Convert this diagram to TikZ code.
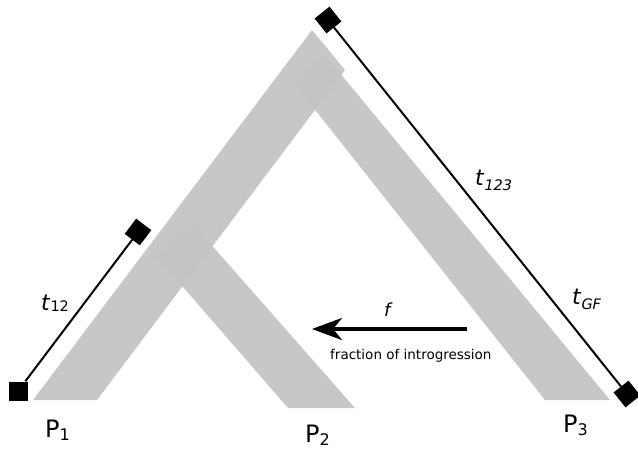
\documentclass[tikz,border=0pt]{standalone}
\usepackage{fontspec}
\setmainfont{DejaVu Sans}
\usetikzlibrary{arrows.meta}
\newcommand{\idx}[2][3pt]{\raisebox{-#1}{\fontsize{14.5}{15}\selectfont #2}}

\begin{document}
\begin{tikzpicture}[x=1pt,y=-1pt,
  band/.style={fill=black!23,fill opacity=0.95},
  tip/.style={rectangle,fill=black,minimum size=19pt,inner sep=0pt},
  span/.style={line width=2pt},
  pop/.style={font=\fontsize{24}{24}\selectfont,anchor=base west,inner sep=0pt},
  tlab/.style={font=\fontsize{22}{22}\selectfont,anchor=base west,inner sep=0pt}]
\useasboundingbox (0,0) rectangle (638,448);
% lineages
\fill[band] (33,400) -- (312,30) -- (345,70) -- (97,400) -- cycle;
\fill[band] (293,82) -- (325,55) -- (610,400) -- (545,400) -- cycle;
\fill[band] (157,257) -- (193,224) -- (355,408) -- (288,408) -- cycle;
% time spans
\node[tip] (s12a) at (18,391) {};
\node[tip,rotate=53] (s12b) at (138,232) {};
\node[tip,rotate=38.6] (s123a) at (328,20) {};
\node[tip,rotate=38.6] (s123b) at (627,394) {};
\draw[span] (s12a) -- (s12b);
\draw[span] (s123a) -- (s123b);
\node[tlab] (t12) at (41,310) {\textit{t}\idx[1pt]{12}};
\node[tlab] (t123) at (475,185) {\textit{t}\idx[5pt]{\itshape 123}};
\node[tlab] (tgf) at (572,304) {\textit{t}\idx[5pt]{\itshape GF}};
% gene flow
\coordinate (fsrc) at (467,329);
\coordinate (fdst) at (312,329);
\draw[line width=4.5pt,-{Stealth[length=30pt,width=22pt,inset=9pt]}] (fsrc) -- (fdst);
\node[font=\fontsize{18}{18}\selectfont,anchor=base west,inner sep=0pt] (f) at (384,316) {\textit{f}};
\node[font=\fontsize{13.5}{14}\selectfont,anchor=base west,inner sep=0pt] (fi) at (330,359) {fraction of introgression};
% populations
\node[pop] (p1) at (45,437) {P\idx[3pt]{\fontsize{16}{16}\selectfont 1}};
\node[pop] (p2) at (305,442) {P\idx[3pt]{\fontsize{16}{16}\selectfont 2}};
\node[pop] (p3) at (563,432) {P\idx[3pt]{\fontsize{16}{16}\selectfont 3}};
\end{tikzpicture}
\end{document}
